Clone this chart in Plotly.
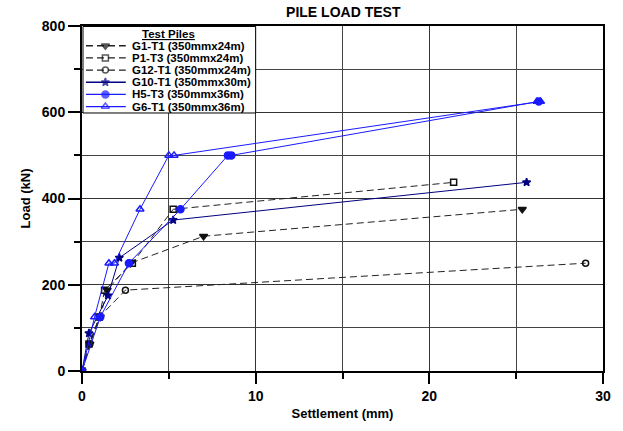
import plotly.graph_objects as go

# ---- data ----
g1_x = [0, 0.45, 1.05, 1.45, 2.8, 7.0, 25.35]
g1_y = [0, 62.5, 125, 187.5, 250, 312.5, 375]
p1_x = [0, 0.4, 1.0, 1.3, 2.9, 5.25, 21.4]
p1_y = [0, 62.5, 125, 187.5, 250, 375, 437.5]
g12_x = [0, 0.45, 1.0, 2.5, 29.0]
g12_y = [0, 62.5, 125, 187.5, 250]
g10_x = [0, 0.4, 1.5, 2.15, 5.25, 25.6]
g10_y = [0, 87.5, 175, 262.5, 350, 437.5]
h5_x = [0, 1.05, 2.7, 5.67, 8.4, 8.6, 26.3]
h5_y = [0, 125, 250, 375, 500, 500, 625]
g6_x = [0, 0.72, 1.55, 1.87, 3.34, 5.0, 5.3, 26.2, 26.4]
g6_y = [0, 125, 250, 250, 375, 500, 500, 625, 625]

names = ["G1-T1 (350mmx24m)", "P1-T3 (350mmx24m)", "G12-T1 (350mmx24m)",
         "G10-T1 (350mmx30m)", "H5-T3 (350mmx36m)", "G6-T1 (350mmx36m)"]
legend_title = "Test Piles"

FONT = "Liberation Sans, Arial, sans-serif"
DASH = "7px,4px"

styles = [
    ("#222222", DASH, "triangle-down", "#111111", 7),
    ("#222222", DASH, "square-open", "#111111", 6),
    ("#222222", DASH, "circle-open", "#111111", 6),
    ("#000080", "solid", "star", "#000080", 6),
    ("#1a1aff", "solid", "circle", "#1a1aff", 7),
    ("#1a1aff", "solid", "triangle-up-open", "#1a1aff", 7),
]
data = [(g1_x, g1_y), (p1_x, p1_y), (g12_x, g12_y),
        (g10_x, g10_y), (h5_x, h5_y), (g6_x, g6_y)]

fig = go.Figure()
for (xs, ys), (lc, dash, sym, mc, ms), nm in zip(data, styles, names):
    fig.add_trace(go.Scatter(
        x=xs, y=ys, name=nm, mode="lines+markers", showlegend=False,
        line=dict(color=lc, width=1, dash=dash),
        marker=dict(symbol=sym, size=ms, color=mc,
                    line=dict(color=mc, width=1.5)),
    ))

# ---- custom compact legend drawn on a pixel-based overlay axis ----
L, R, T, B = 82, 605.5, 26, 375
bx0, bx1, by0, by1 = 83, 256.5, 26.5, 114
fig.add_trace(go.Scatter(
    x=[bx0, bx1, bx1, bx0, bx0], y=[by0, by0, by1, by1, by0],
    mode="lines", fill="toself", fillcolor="white",
    line=dict(color="black", width=1),
    xaxis="x2", yaxis="y2", showlegend=False, hoverinfo="skip",
))

row0, step = 46, 12.3
for i, ((lc, dash, sym, mc, ms), nm) in enumerate(zip(styles, names)):
    yy = row0 + i * step
    fig.add_trace(go.Scatter(
        x=[86, 105.5, 126], y=[yy, yy, yy], mode="lines+markers",
        xaxis="x2", yaxis="y2", showlegend=False, hoverinfo="skip",
        line=dict(color=lc, width=1.3, dash=dash),
        marker=dict(symbol=sym, size=[0, ms, 0], color=mc,
                    line=dict(color=mc, width=1.5)),
    ))
    fig.add_annotation(
        xref="x2", yref="y2", x=130, y=yy,
        xanchor="left", yanchor="middle",
        text="<b>" + nm + "</b>", showarrow=False,
        font=dict(family=FONT, size=11.5, color="black"),
    )
fig.add_annotation(
    xref="x2", yref="y2", x=169, y=34.5,
    xanchor="center", yanchor="middle",
    text="<b><u>" + legend_title + "</u></b>", showarrow=False,
    font=dict(family=FONT, size=11.5, color="black"),
)

axis_common = dict(
    showline=True, linecolor="black", linewidth=2, mirror=True,
    ticks="outside", tickcolor="black", tickwidth=2,
    showgrid=True, gridcolor="#333333", gridwidth=1,
    zeroline=False,
    tickfont=dict(family=FONT, size=14, color="black", weight="bold"),
)

fig.update_layout(
    width=623, height=431,
    margin=dict(l=L, r=623 - R, t=T, b=431 - B),
    paper_bgcolor="white", plot_bgcolor="white",
    font=dict(family=FONT, color="black"),
    showlegend=False,
    title=dict(text="<b>PILE LOAD TEST</b>", x=0.551, xanchor="center",
               y=0.972, yanchor="middle",
               font=dict(family=FONT, size=14, color="black")),
    xaxis=dict(range=[0, 30], dtick=10, ticklen=11,
               minor=dict(dtick=5, ticks="outside", ticklen=6, tickwidth=2,
                          tickcolor="black", showgrid=True,
                          gridcolor="#444444", gridwidth=1),
               title=dict(text="<b>Settlement (mm)</b>", standoff=6,
                          font=dict(family=FONT, size=13, color="black")),
               **axis_common),
    yaxis=dict(range=[0, 800], dtick=200, ticklen=12,
               minor=dict(dtick=100, ticks="outside", ticklen=6, tickwidth=2,
                          tickcolor="black", showgrid=True,
                          gridcolor="#444444", gridwidth=1),
               title=dict(text="<b>Load (kN)</b>", standoff=8,
                          font=dict(family=FONT, size=13, color="black")),
               **axis_common),
    xaxis2=dict(overlaying="x", range=[L, R], visible=False, fixedrange=True),
    yaxis2=dict(overlaying="y", range=[B, T], visible=False, fixedrange=True),
)

fig.write_html("out.html")
